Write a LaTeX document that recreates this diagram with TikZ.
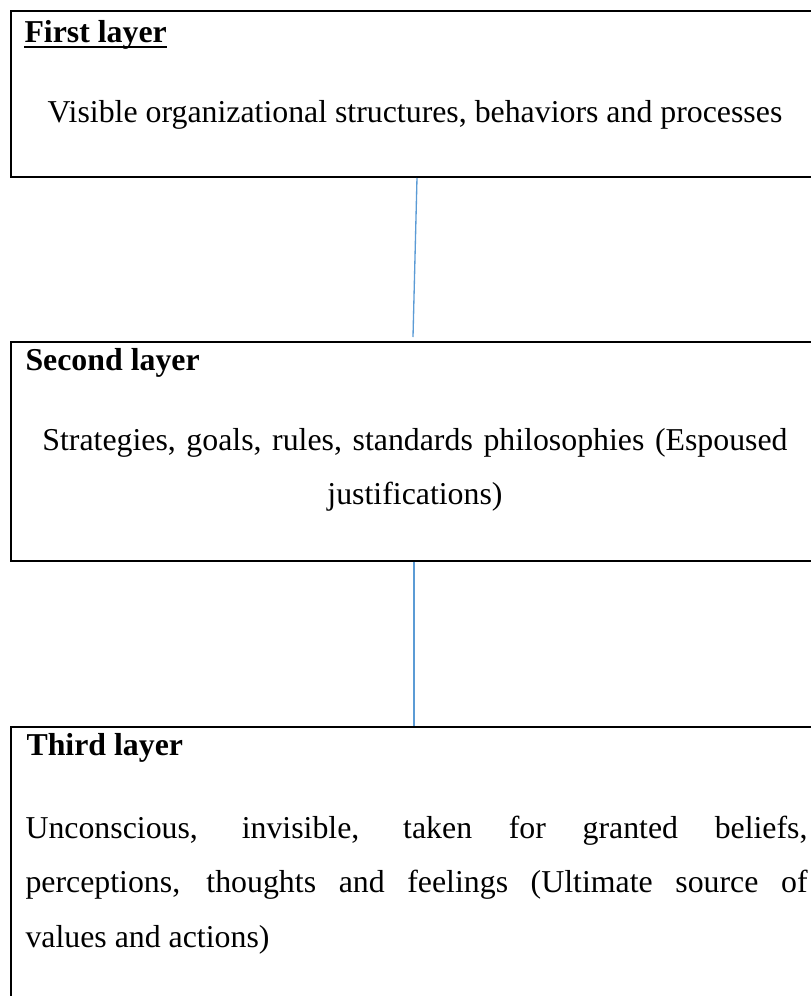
\documentclass[tikz,border=0pt]{standalone}
\usepackage{fontspec}
\setmainfont{Liberation Serif}
\usetikzlibrary{calc}

\newcommand{\pxunit}{0.377pt}
\definecolor{linkblue}{RGB}{91,155,213}

\tikzset{
  layerbox/.style={draw,line width=0.75pt,inner sep=0pt,anchor=north west},
  layertitle/.style={inner sep=0pt,anchor=base west,font=\fontsize{12}{20.7}\selectfont\bfseries},
  layertext/.style={inner sep=0pt,font=\fontsize{12}{20.7}\selectfont},
  layerlink/.style={linkblue,line width=0.5pt}
}

\begin{document}
\begin{tikzpicture}[x=\pxunit,y=-\pxunit]
\useasboundingbox (0,0) rectangle (811,996);
\clip (0,0) rectangle (811,996);

  % the three boxes, cut off at the right as in the page
  \node[layerbox,minimum width={812*\pxunit},minimum height={166*\pxunit}] (layerone) at (10,10) {};
  \node[layerbox,minimum width={812*\pxunit},minimum height={219*\pxunit}] (layertwo) at (10,341) {};
  \node[layerbox,minimum width={812*\pxunit},minimum height={290*\pxunit}] (layerthree) at (10,726) {};

  \node[layertitle] (titleone) at (24,42) {First layer};
  \draw[line width=0.75pt] ($(titleone.base west)+(0,5)$) -- ($(titleone.base east)+(0,5)$);
  \node[layertext,anchor=base] (textone) at (415,122) {Visible organizational structures, behaviors and processes};

  \node[layertitle] (titletwo) at (25,370) {Second layer};
  \node[layertext,anchor=base,text width={780*\pxunit},align=center] (texttwo) at (415,450) {Strategies, goals, rules, standards philosophies (Espoused\\ justifications)};

  \node[layertitle] (titlethree) at (26,755) {Third layer};
  \node[layertext,anchor=base west,text width={782*\pxunit},align=justify] (textthree) at (25,838)
    {Unconscious, invisible, taken for granted beliefs,\linebreak
     perceptions, thoughts and feelings (Ultimate source of\linebreak
     values and actions)};

  \coordinate (linkonetop) at ($(layerone.south)+(0,0)$);
  \coordinate (linkonebot) at ($(layertwo.north)+(-4,-4)$);
  \draw[layerlink] (linkonetop) -- (linkonebot);
  \draw[layerlink] ($(layertwo.south)+(-3,0)$) -- ($(layerthree.north)+(-3,0)$);

\end{tikzpicture}
\end{document}
